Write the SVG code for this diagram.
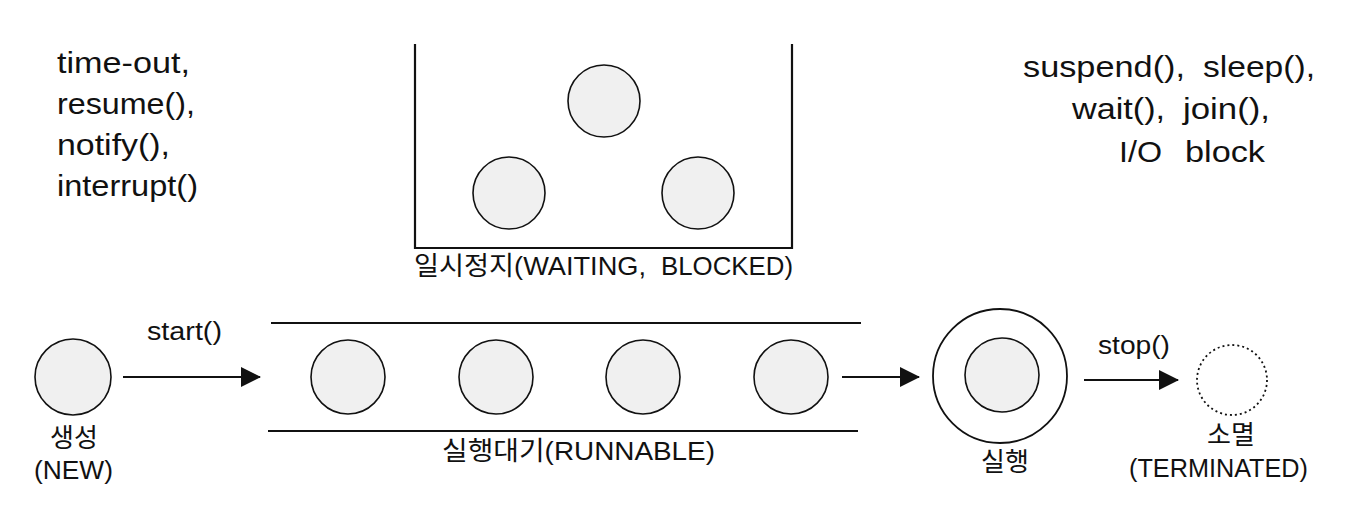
<svg xmlns="http://www.w3.org/2000/svg" width="1360" height="514" viewBox="0 0 1360 514">
<style>
text{font-family:"Liberation Sans","Noto Sans CJK KR",sans-serif;fill:#111}
.big{font-size:30px}
.lbl{font-size:26px}
.st{fill:#f0f0f0;stroke:#111;stroke-width:1.6}
.ln{stroke:#111;stroke-width:2.2;fill:none}
.cn{stroke:#111;stroke-width:2;fill:none}
</style>
<defs>
<marker id="ah" markerWidth="20" markerHeight="20" refX="19" refY="10" orient="auto" markerUnits="userSpaceOnUse">
<path d="M0,0 L20,10 L0,20 Z" fill="#111"/>
</marker>
</defs>
<rect width="1360" height="514" fill="#fff"/>

<g id="resume-labels">
<text class="big" x="57" y="73" textLength="133" lengthAdjust="spacingAndGlyphs">time-out,</text>
<text class="big" x="57" y="114" textLength="138" lengthAdjust="spacingAndGlyphs">resume(),</text>
<text class="big" x="57" y="155" textLength="113" lengthAdjust="spacingAndGlyphs">notify(),</text>
<text class="big" x="57" y="196" textLength="141" lengthAdjust="spacingAndGlyphs">interrupt()</text>
</g>

<g id="block-labels">
<text class="big" x="1023" y="77" textLength="162" lengthAdjust="spacingAndGlyphs">suspend(),</text>
<text class="big" x="1203" y="77" textLength="112" lengthAdjust="spacingAndGlyphs">sleep(),</text>
<text class="big" x="1072" y="119" textLength="93" lengthAdjust="spacingAndGlyphs">wait(),</text>
<text class="big" x="1183" y="119" textLength="87" lengthAdjust="spacingAndGlyphs">join(),</text>
<text class="big" x="1119" y="162" textLength="43" lengthAdjust="spacingAndGlyphs">I/O</text>
<text class="big" x="1185" y="162" textLength="80" lengthAdjust="spacingAndGlyphs">block</text>
</g>

<g id="waiting">
<path class="ln" d="M415,44 V248 H792 V44"/>
<circle class="st" cx="604" cy="101" r="36"/>
<circle class="st" cx="509" cy="193" r="36"/>
<circle class="st" cx="698" cy="193" r="36"/>
<text class="lbl" x="414" y="275" textLength="232" lengthAdjust="spacingAndGlyphs">일시정지(WAITING,</text>
<text class="lbl" x="661" y="275" textLength="132" lengthAdjust="spacingAndGlyphs">BLOCKED)</text>
</g>

<g id="new">
<circle class="st" cx="73" cy="377" r="38"/>
<text class="lbl" x="74" y="447" text-anchor="middle">생성</text>
<text class="lbl" x="34" y="479" textLength="79" lengthAdjust="spacingAndGlyphs">(NEW)</text>
</g>

<g id="runnable">
<line class="ln" x1="271" y1="323" x2="861" y2="323"/>
<line class="ln" x1="268" y1="431" x2="858" y2="431"/>
<circle class="st" cx="348" cy="377" r="37"/>
<circle class="st" cx="496" cy="377" r="37"/>
<circle class="st" cx="643" cy="377" r="37"/>
<circle class="st" cx="791" cy="377" r="37"/>
<text class="lbl" x="442" y="460" textLength="273" lengthAdjust="spacingAndGlyphs">실행대기(RUNNABLE)</text>
</g>

<g id="running">
<circle cx="1000" cy="376" r="67" fill="#fff" stroke="#111" stroke-width="1.8"/>
<circle class="st" cx="1002" cy="375" r="37"/>
<text class="lbl" x="1005" y="471" text-anchor="middle">실행</text>
</g>

<g id="terminated">
<circle cx="1232" cy="380" r="35" fill="none" stroke="#111" stroke-width="1.8" stroke-dasharray="2 3"/>
<text class="lbl" x="1231" y="444" text-anchor="middle">소멸</text>
<text class="lbl" x="1129" y="477" textLength="179" lengthAdjust="spacingAndGlyphs">(TERMINATED)</text>
</g>

<g id="connectors">
<line class="cn" x1="123" y1="377" x2="260" y2="377" marker-end="url(#ah)"/>
<text class="lbl" x="147" y="340" textLength="75" lengthAdjust="spacingAndGlyphs">start()</text>
<line class="cn" x1="842" y1="377" x2="919" y2="377" marker-end="url(#ah)"/>
<line class="cn" x1="1084" y1="380" x2="1178" y2="380" marker-end="url(#ah)"/>
<text class="lbl" x="1098" y="354" textLength="72" lengthAdjust="spacingAndGlyphs">stop()</text>
</g>
</svg>
